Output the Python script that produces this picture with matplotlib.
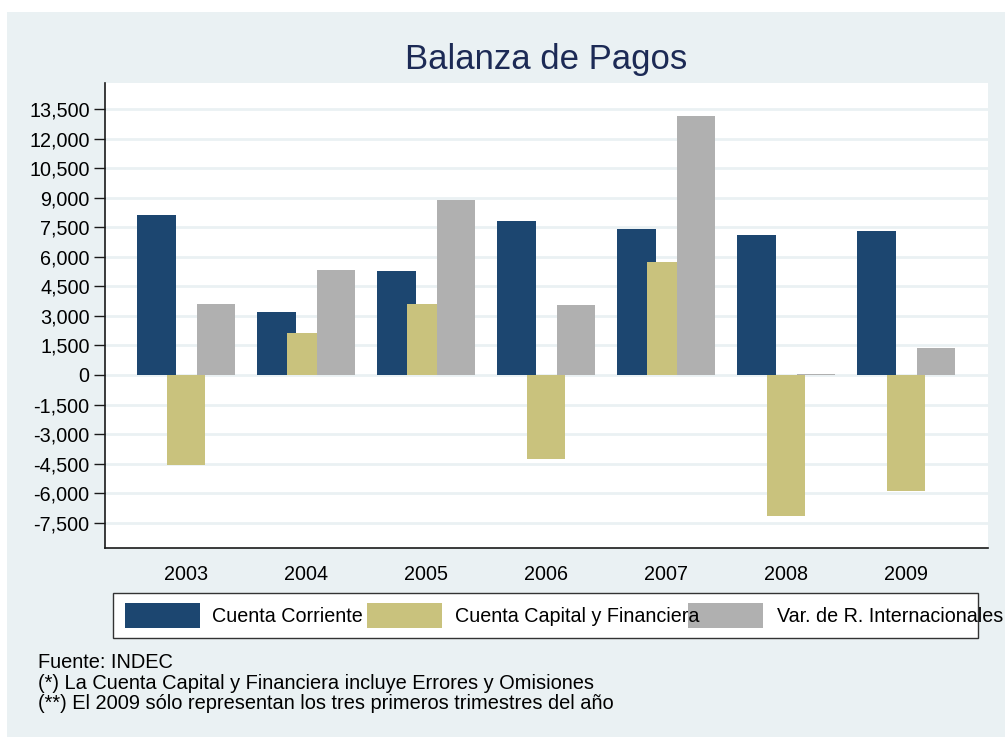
import matplotlib
matplotlib.use("Agg")
import matplotlib.pyplot as plt
from matplotlib.patches import Rectangle
import numpy as np

plt.rcParams['font.family'] = ['Liberation Sans', 'DejaVu Sans']

years = ['2003', '2004', '2005', '2006', '2007', '2008', '2009']
cuenta_corriente = [8140, 3200, 5280, 7820, 7410, 7100, 7310]
cuenta_capital = [-4570, 2130, 3600, -4260, 5740, -7160, -5890]
var_reservas = [3600, 5330, 8880, 3550, 13150, 40, 1370]
series_names = ['Cuenta Corriente', 'Cuenta Capital y Financiera', 'Var. de R. Internacionales']
colors = ['#1C4670', '#C9C27D', '#B0B0B0']
yticks = list(range(-7500, 13501, 1500))
title = 'Balanza de Pagos'
notes = ['Fuente: INDEC',
         '(*) La Cuenta Capital y Financiera incluye Errores y Omisiones',
         '(**) El 2009 sólo representan los tres primeros trimestres del año']

W, H = 1005, 737
fig = plt.figure(figsize=(W/100, H/100), dpi=100)
fig.patch.set_facecolor('white')
bg = '#EAF1F3'
fig.add_artist(Rectangle((7/W, 0), 1 - 7/W, 1 - 12/H, transform=fig.transFigure,
                         facecolor=bg, edgecolor='none', zorder=-10))

ax = fig.add_axes([105/W, 1 - 548/H, (988-105)/W, (548-83)/H])
ax.set_facecolor('white')

x = np.arange(len(years))
bw = 0.317
off = 0.246
for i, (vals, c) in enumerate(zip([cuenta_corriente, cuenta_capital, var_reservas], colors)):
    ax.bar(x + (i - 1) * off, vals, width=bw, color=c, edgecolor='none', zorder=3 + i)

ax.set_xlim(-0.675, 6.683)
ax.set_ylim(-8780, 14819)
ax.set_yticks(yticks)
ax.set_yticklabels([f'{v:,}' for v in yticks])
ax.set_xticks(x)
ax.set_xticklabels(years)
ax.grid(axis='y', color='#EAF1F3', linewidth=2, zorder=0)
ax.set_axisbelow(True)
for s in ['top', 'right']:
    ax.spines[s].set_visible(False)
for s in ['left', 'bottom']:
    ax.spines[s].set_color('#1a1a1a')
    ax.spines[s].set_linewidth(1.2)
ax.tick_params(axis='y', length=8, width=1, color='#1a1a1a', pad=3, labelsize=14.2)
ax.tick_params(axis='x', length=0, pad=12, labelsize=14.2)

fig.text(546/W, 1 - 69/H, title, ha='center', va='baseline', fontsize=25, color='#1C2A55')

# legend box
fig.add_artist(Rectangle((113/W, 1 - 638/H), (978-113)/W, 45/H, transform=fig.transFigure,
                         facecolor='white', edgecolor='#333333', linewidth=1, zorder=5))
px = [125, 367, 688]
tx = [212, 455, 777]
for p, t, c, name in zip(px, tx, colors, series_names):
    fig.add_artist(Rectangle((p/W, 1 - 628/H), 75/W, 25/H, transform=fig.transFigure,
                             facecolor=c, edgecolor='none', zorder=6))
    fig.text(t/W, 1 - 616/H, name, ha='left', va='center', fontsize=14.2, zorder=7)

baselines = [668, 689, 709]
for b, n in zip(baselines, notes):
    fig.text(38/W, 1 - b/H, n, ha='left', va='baseline', fontsize=14.4)

fig.savefig('out.png', dpi=100, facecolor=fig.get_facecolor())
